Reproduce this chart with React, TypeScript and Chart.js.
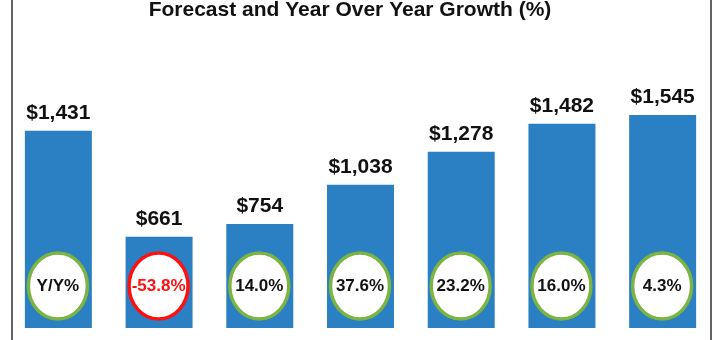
import React, { useEffect, useRef } from "react";
import { Chart, registerables } from "chart.js";

Chart.register(...registerables);

const chartTitle = "Forecast and Year Over Year Growth (%)";
const categories = ["Year 1", "Year 2", "Year 3", "Year 4", "Year 5", "Year 6", "Year 7"];
const forecastValues = [1431, 661, 754, 1038, 1278, 1482, 1545];
const valueLabels = ["$1,431", "$661", "$754", "$1,038", "$1,278", "$1,482", "$1,545"];
const growthLabels = ["Y/Y%", "-53.8%", "14.0%", "37.6%", "23.2%", "16.0%", "4.3%"];
const growthNegative = [false, true, false, false, false, false, false];

const BAR_BLUE = "#2b7fc3";
const GREEN = "#7cb443";
const RED = "#ff1010";
const FONT = "Arial, 'Liberation Sans', sans-serif";

const overlayPlugin = {
  id: "overlay",
  afterDatasetsDraw(chart: any) {
    const ctx = chart.ctx;
    const meta = chart.getDatasetMeta(0);
    ctx.save();
    meta.data.forEach((bar: any, i: number) => {
      const x = bar.x;
      const top = bar.y;
      const base = bar.base;
      // value label
      ctx.fillStyle = "#111";
      ctx.font = `bold 21px ${FONT}`;
      ctx.textAlign = "center";
      ctx.textBaseline = "alphabetic";
      ctx.fillText(valueLabels[i], x, top - 12);
      // growth ellipse
      const cy = base - 42;
      ctx.beginPath();
      ctx.ellipse(x - 0.5, cy, 29.5, 33, 0, 0, Math.PI * 2);
      ctx.fillStyle = "#ffffff";
      ctx.fill();
      ctx.lineWidth = 3.5;
      ctx.strokeStyle = growthNegative[i] ? RED : GREEN;
      ctx.stroke();
      ctx.fillStyle = growthNegative[i] ? RED : "#111";
      ctx.font = `bold 17px ${FONT}`;
      ctx.textBaseline = "middle";
      ctx.fillText(growthLabels[i], x - 0.5, cy);
    });
    ctx.restore();
  },
  afterDraw(chart: any) {
    const ctx = chart.ctx;
    ctx.save();
    ctx.fillStyle = "#111";
    ctx.font = `bold 21px ${FONT}`;
    ctx.textAlign = "center";
    ctx.textBaseline = "alphabetic";
    ctx.fillText(chartTitle, 350, 16);
    ctx.strokeStyle = "#333";
    ctx.lineWidth = 1.5;
    ctx.beginPath();
    ctx.moveTo(12, 0);
    ctx.lineTo(12, 340);
    ctx.moveTo(711, 0);
    ctx.lineTo(711, 340);
    ctx.stroke();
    ctx.restore();
  },
};

export default function App() {
  const ref = useRef<HTMLCanvasElement>(null);
  useEffect(() => {
    if (!ref.current) return;
    const chart = new Chart(ref.current, {
      type: "bar",
      data: {
        labels: categories,
        datasets: [
          {
            data: forecastValues,
            backgroundColor: BAR_BLUE,
            borderWidth: 0,
            barPercentage: 0.665,
            categoryPercentage: 1,
          },
        ],
      },
      options: {
        responsive: false,
        animation: false,
        layout: { padding: { left: 8, right: 7, top: 66, bottom: 12 } },
        plugins: { legend: { display: false }, title: { display: false }, tooltip: { enabled: false } },
        scales: {
          x: { display: false },
          y: { display: false, min: 0, max: 1900 },
        },
      },
      plugins: [overlayPlugin],
    });
    return () => chart.destroy();
  }, []);
  return (
    <div style={{ position: "fixed", left: 0, top: 0, width: 720, height: 340, background: "#fff" }}>
      <canvas ref={ref} width={720} height={340} />
    </div>
  );
}
